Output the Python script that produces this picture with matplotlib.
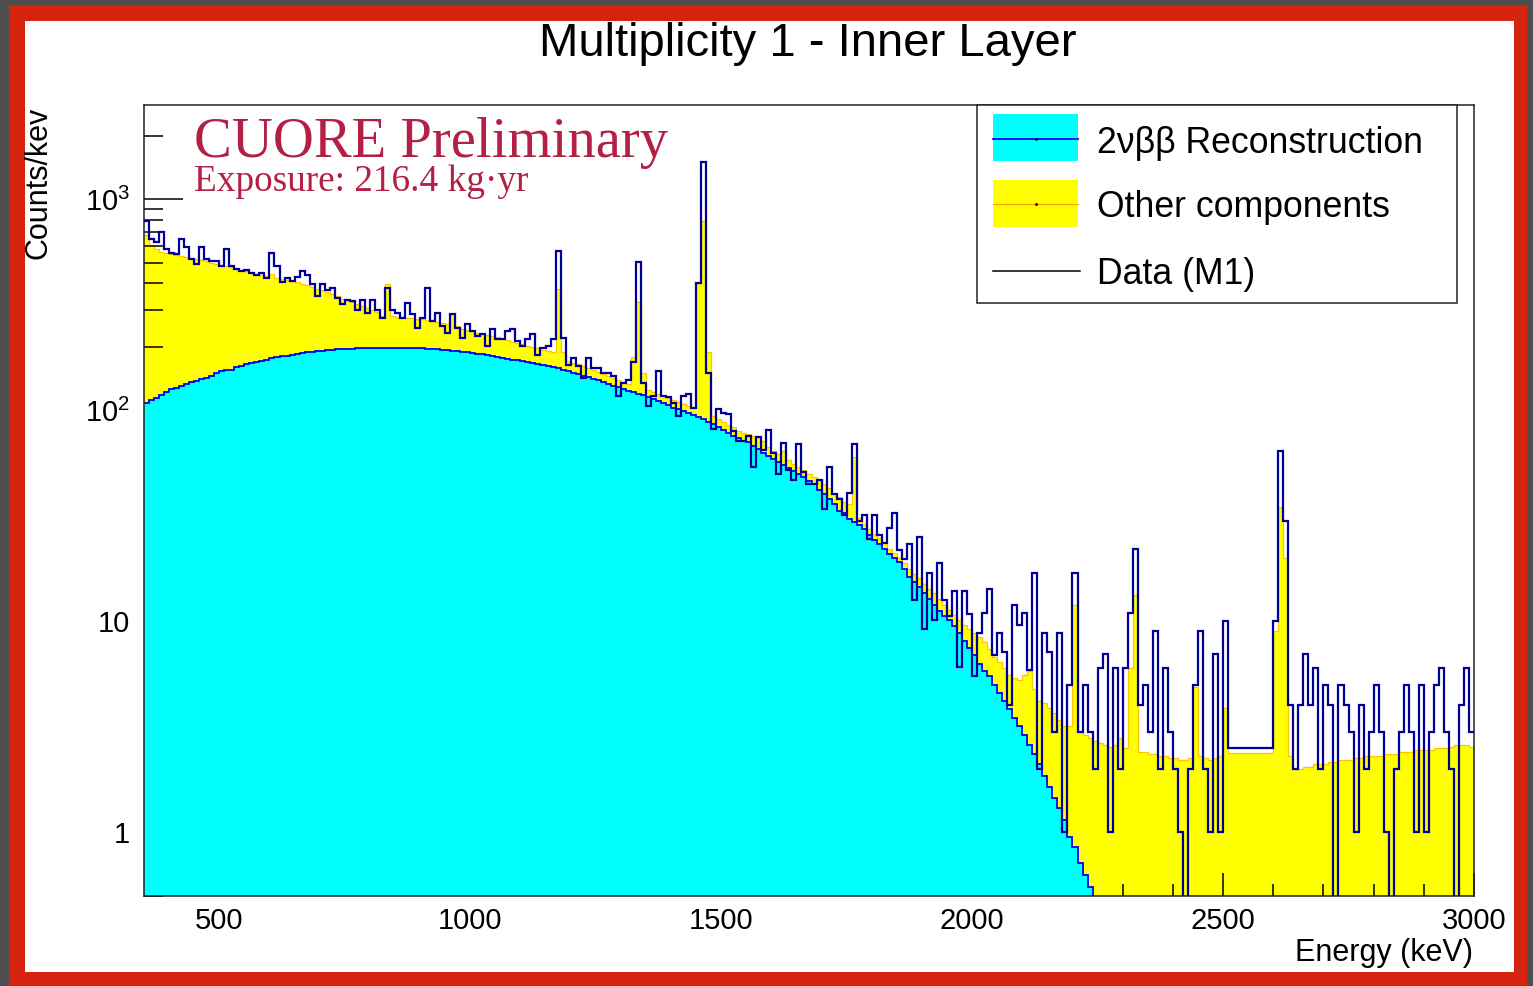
import numpy as np
import matplotlib
matplotlib.use("Agg")
import matplotlib.pyplot as plt
from matplotlib.patches import Rectangle
from matplotlib.lines import Line2D
from matplotlib.ticker import (FixedLocator, FixedFormatter, LogLocator,
                               MultipleLocator, NullFormatter)

plt.rcParams['font.family'] = ['Liberation Sans', 'DejaVu Sans']
plt.rcParams['mathtext.fontset'] = 'custom'
plt.rcParams['mathtext.rm'] = 'Liberation Sans'
plt.rcParams['mathtext.it'] = 'Liberation Sans:italic'
plt.rcParams['mathtext.bf'] = 'Liberation Sans:bold'

# energy binning: 10 keV bins, 350 - 3000 keV
e_lo, e_hi, bin_w = 350, 3000, 10
edges = np.arange(e_lo, e_hi + bin_w, bin_w)

# M1 data, counts/keV (0 = empty bin, 2510-2600 keV blinded -> flat)
data_m1 = [
    789, 646, 625, 698, 580, 560, 549, 646, 593, 520,
    494, 593, 520, 508, 508, 482, 580, 482, 470, 456,
    465, 450, 440, 450, 426, 560, 482, 404, 426, 410,
    430, 456, 440, 397, 347, 397, 373, 380, 340, 318,
    335, 330, 300, 335, 291, 335, 300,
    275, 381, 300, 290, 275, 324, 285, 247, 275, 381,
    265, 290, 251, 233, 285, 247, 221, 256, 238, 225,
    229, 202, 244, 217, 217, 238, 242, 213, 202, 217,
    229, 184, 198, 202, 217, 569, 220, 165, 178, 162,
    143, 178, 159, 159, 150,
    151, 146, 117, 135, 140, 170, 505, 135, 105, 117,
    154, 117, 116, 109, 94, 117, 119, 103, 400, 1500,
    150, 82, 101, 97, 96, 80, 72, 72, 76, 54,
    75, 65, 81, 63, 50, 70, 52, 47, 69, 51,
    45, 45, 47, 34, 54, 40,
    38, 32, 40.7, 69, 30, 32, 24.5, 32, 25.8, 23.6,
    27.8, 32.7, 21.9, 19.7, 23.2, 12.7, 25, 9.2, 17, 10.2,
    18.9, 12.7, 10.6, 13.9, 6.1, 13.9, 10.8, 5.5, 8.8, 11,
    14.2, 6.9, 8.8, 7.2, 4.0, 12, 9.6, 11, 5.9, 17,
    2.0, 8.8, 7.2, 3.0, 8.8, 1.0,
    5, 17, 3, 5, 3, 2, 6, 7, 1, 6,
    2, 6, 11, 22, 4, 5, 3, 9, 2, 6,
    3, 2, 1, 0, 2, 5, 9, 2, 1, 7,
    1, 10,
    2.5, 2.5, 2.5, 2.5, 2.5, 2.5, 2.5, 2.5, 2.5,
    10, 64, 30, 4, 2, 4, 7, 4, 6, 2,
    5, 4, 0, 5, 4, 3, 1, 4, 2, 3,
    5, 3, 1, 0, 2, 3, 5, 3, 1, 5,
    1, 3, 5, 6, 3, 2, 0, 4, 6, 3,
]

# full background model (2vbb + other components), counts/keV
model_total = [
    680, 610, 585, 565, 558, 550, 545, 538, 532, 526,
    521, 515, 508, 502, 496, 490, 484, 478, 470, 463,
    457, 451, 444, 437, 432, 445, 422, 419, 415, 411,
    405, 398, 392, 384, 376, 370, 362, 357, 349, 339,
    333, 326, 320, 314, 306, 298, 292,
    279, 395, 279, 277, 276, 275, 274, 272, 270, 268,
    266, 263, 260, 256, 285, 251, 244, 240, 237, 233,
    230, 227, 225, 222, 219, 215, 212, 209, 206, 203,
    200, 197, 194, 192, 190, 377, 190, 171, 168, 166,
    162, 159, 155, 152, 148,
    145, 142, 139, 136, 134, 180, 325, 150, 125, 122,
    120, 117, 115, 112, 110, 107, 105, 103, 400, 790,
    190, 94, 91, 88, 85, 83, 80, 78, 77, 76,
    76, 72, 67, 64, 62, 64, 58, 56, 54, 52,
    50, 48.5, 47, 45, 43, 40,
    39, 37, 36, 60, 31, 29, 27.5, 26, 24.8, 23.5,
    22, 21, 20, 19, 17.8, 16.8, 16, 15, 14.3, 13.6,
    12.8, 12, 11.3, 10.7, 10.2, 9.6, 9.2, 8.8, 8.4, 8,
    7.4, 6.8, 6.4, 6, 5.6, 5.4, 5.3, 5.6, 5.8, 4.8,
    4.2, 4.1, 3.9, 3.7, 3.4, 3.2,
    3.2, 12, 3.0, 2.9, 2.8, 2.7, 2.65, 2.6, 2.55, 2.6,
    2.8, 2.5, 6, 13.4, 2.4, 2.4, 2.35, 2.35, 2.3, 2.3,
    2.25, 2.25, 2.2, 2.2, 2.25, 4.9, 2.3, 2.25, 2.2, 2.25,
    2.3, 3.9,
    2.37, 2.37, 2.37, 2.37, 2.37, 2.37, 2.37, 2.37, 2.37,
    9, 35, 20, 2.3, 2.0, 2.0, 2.05, 2.05, 2.1, 2.1,
    2.1, 2.15, 2.15, 2.2, 2.2, 2.2, 2.25, 2.25, 2.3, 2.3,
    2.3, 2.3, 2.35, 2.35, 2.35, 2.4, 2.4, 2.4, 2.45, 2.45,
    2.45, 2.45, 2.5, 2.5, 2.5, 2.55, 2.6, 2.6, 2.6, 2.55,
]

# 2vbb reconstruction, counts/keV (350 - 2250 keV)
bb2nu = [
    108, 112, 115, 118, 122, 126, 128, 130, 133, 136,
    138, 141, 143, 146, 150, 153, 155, 156, 160, 163,
    166, 168, 170, 172, 174, 177, 179, 181, 182, 184,
    185, 187, 189, 190, 191, 192, 193, 194, 195, 196,
    196, 196, 197, 197, 198, 198, 198,
    198, 198, 198, 198, 198, 198, 197, 197, 197, 196,
    196, 195, 194, 193, 192, 191, 190, 189, 188, 186,
    185, 183, 181, 180, 178, 176, 174, 173, 171, 169,
    167, 166, 164, 162, 160, 158, 156, 154, 151, 148,
    146, 144, 141, 139, 137,
    134, 131, 129, 126, 124, 122, 120, 118, 116, 113,
    111, 108, 106, 103, 101, 99, 97, 95, 93, 91,
    88, 86, 83, 81, 78, 76, 74, 72, 71, 68,
    65.5, 63, 61, 59, 57, 55, 53.5, 51.5, 50, 48.5,
    46.5, 45, 42, 40, 38, 36,
    33.5, 32.5, 30.5, 29.5, 28.5, 27.5, 25.8, 24.4, 23.2, 22,
    20.9, 20, 19.2, 17.8, 16.3, 15.4, 14.5, 13.6, 12.8, 12,
    11.2, 10.6, 10.2, 9.5, 8.8, 8.1, 7.5, 6.9, 6.3, 5.8,
    5.5, 5.0, 4.6, 4.2, 3.85, 3.5, 3.2, 2.9, 2.6, 2.35,
    2.1, 1.85, 1.65, 1.45, 1.3, 1.15,
    0.95, 0.85, 0.72, 0.63, 0.55, 0.48,
]
bb2nu_edges = edges[:len(bb2nu) + 1]

x_ticks = [500, 1000, 1500, 2000, 2500, 3000]
y_ticks = [1, 10, 100, 1000]
y_tick_labels = ['1', '10', r'$10^{2}$', r'$10^{3}$']

W, H = 1533, 986


def fx(px):
    return px / W


def fy(py):
    return 1 - py / H


fig = plt.figure(figsize=(W / 100, H / 100), dpi=100)
fig.patch.set_facecolor('#4e4e4e')

# red frame + white canvas
fig.add_artist(Rectangle((fx(9), fy(986)), fx(1527) - fx(9), fy(5) - fy(986),
                         transform=fig.transFigure, facecolor='#d5230f',
                         edgecolor='none', zorder=-3))
fig.add_artist(Rectangle((fx(25), fy(972)), fx(1514) - fx(25), fy(21) - fy(972),
                         transform=fig.transFigure, facecolor='white',
                         edgecolor='none', zorder=-2))

ax = fig.add_axes([fx(144), fy(896), fx(1474) - fx(144), fy(105) - fy(896)])
ax.set_yscale('log')
floor = 1e-3

ax.stairs(model_total, edges, baseline=floor, fill=True, color='#ffff00',
          zorder=1)
ax.stairs(model_total, edges, baseline=None, color='#ffc400', lw=0.9,
          zorder=1.1)
ax.stairs(bb2nu, bb2nu_edges, baseline=floor, fill=True, color='#00ffff',
          zorder=2)
ax.stairs(bb2nu, bb2nu_edges, baseline=None, color='#0000ff', lw=1.3,
          zorder=2.1)
ax.stairs(np.clip(data_m1, floor, None), edges, baseline=None,
          color='#000099', lw=1.6, zorder=3)

ax.set_xlim(e_lo, e_hi)
ax.set_ylim(0.5, 2800)

ax.xaxis.set_major_locator(FixedLocator(x_ticks))
ax.xaxis.set_minor_locator(MultipleLocator(100))
ax.yaxis.set_major_locator(FixedLocator(y_ticks))
ax.yaxis.set_major_formatter(FixedFormatter(y_tick_labels))
ax.yaxis.set_minor_locator(LogLocator(base=10, subs=np.arange(2, 10)))
ax.yaxis.set_minor_formatter(NullFormatter())

ax.tick_params(axis='both', which='both', direction='in', top=False,
               right=False, width=1.1, colors='black', labelsize=21)
ax.tick_params(axis='y', which='major', length=28, pad=10)
ax.tick_params(axis='y', which='minor', length=14)
ax.tick_params(axis='x', which='major', length=16.5, pad=8)
ax.tick_params(axis='x', which='minor', length=8.6)
for sp in ax.spines.values():
    sp.set_linewidth(1.1)
    sp.set_color('#222222')

# titles
fig.text(fx(808), fy(56), 'Multiplicity 1 - Inner Layer', ha='center',
         va='baseline', fontsize=34)
fig.text(fx(39), fy(107), 'Counts/kev', rotation=90, ha='center', va='top',
         fontsize=22)
fig.text(fx(1473), fy(961), 'Energy (keV)', ha='right', va='baseline',
         fontsize=22)

cuore_red = '#b41f45'
fig.text(fx(194), fy(157), 'CUORE Preliminary', family='Liberation Serif',
         fontsize=40.8, color=cuore_red, ha='left', va='baseline')
fig.text(fx(194), fy(191), 'Exposure: 216.4 kg\u00b7yr',
         family='Liberation Serif', fontsize=26.8, color=cuore_red,
         ha='left', va='baseline')

# legend box
fig.add_artist(Rectangle((fx(977), fy(303)), fx(1457) - fx(977),
                         fy(105) - fy(303), transform=fig.transFigure,
                         facecolor='white', edgecolor='#222222', lw=1.1,
                         zorder=5))
fig.add_artist(Rectangle((fx(993), fy(161)), fx(1078) - fx(993),
                         fy(114) - fy(161), transform=fig.transFigure,
                         facecolor='#00ffff', edgecolor='none', zorder=6))
fig.add_artist(Line2D([fx(993), fx(1078)], [fy(138.5), fy(138.5)],
                      transform=fig.transFigure, color='#0000ff', lw=1.3,
                      zorder=7))
fig.add_artist(Rectangle((fx(993), fy(227)), fx(1078) - fx(993),
                         fy(180) - fy(227), transform=fig.transFigure,
                         facecolor='#ffff00', edgecolor='none', zorder=6))
fig.add_artist(Line2D([fx(993), fx(1078)], [fy(204), fy(204)],
                      transform=fig.transFigure, color='#ff9a00', lw=0.8,
                      zorder=7))
fig.add_artist(Line2D([fx(1036)], [fy(204)], transform=fig.transFigure,
                      marker='.', ms=2, color='black', zorder=8))
fig.add_artist(Line2D([fx(1036)], [fy(138.5)], transform=fig.transFigure,
                      marker='.', ms=2, color='black', zorder=8))
fig.add_artist(Line2D([fx(993), fx(1080)], [fy(271), fy(271)],
                      transform=fig.transFigure, color='black', lw=1.1,
                      zorder=7))

legend_labels = ['2\u03bd\u03b2\u03b2 Reconstruction', 'Other components',
                 'Data (M1)']
for lab, yb in zip(legend_labels, [153, 217, 284]):
    fig.text(fx(1097), fy(yb), lab, ha='left', va='baseline', fontsize=25.7,
             zorder=8)

fig.savefig('out.png', dpi=100, facecolor=fig.get_facecolor())
